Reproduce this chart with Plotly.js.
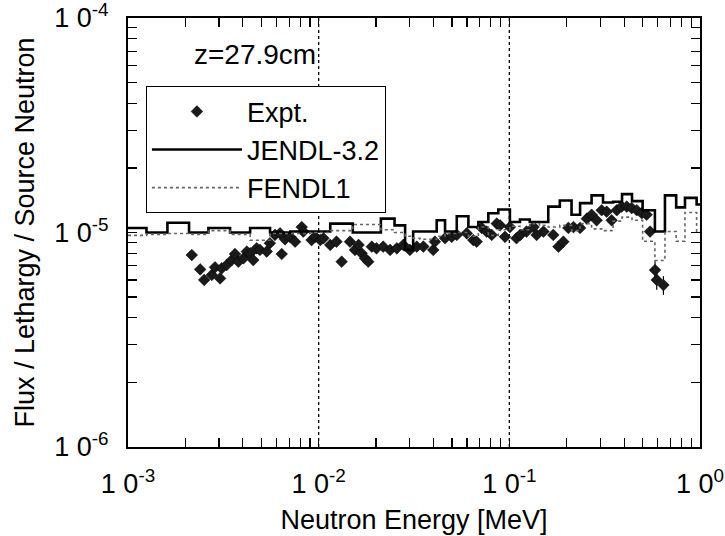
<!DOCTYPE html>
<html><head><meta charset="utf-8">
<script src="https://cdn.plot.ly/plotly-3.0.1.min.js"></script>
<style>body{margin:0;background:#fff}#chart{width:725px;height:536px}</style>
</head><body><div id="chart"></div>
<script>
// Group boundaries (MeV)
const binEdges = [1.0e-3, 1.25e-3, 1.61e-3, 2.09e-3, 2.64e-3, 3.43e-3, 4.37e-3, 5.56e-3, 7.1e-3, 9.1e-3,
  1.15e-2, 1.51e-2, 2.12e-2, 2.5e-2, 2.84e-2, 3.13e-2, 3.4e-2, 4.16e-2, 4.6e-2, 5.3e-2, 6.1e-2, 6.88e-2,
  7.76e-2, 8.75e-2, 0.1007, 0.1137, 0.128, 0.144, 0.16, 0.184, 0.212, 0.235, 0.27, 0.31, 0.35, 0.39,
  0.44, 0.50, 0.58, 0.655, 0.75, 0.834, 0.96, 1.0];
// JENDL-3.2 calculated flux per lethargy
const jendlValues = [1.05e-5, 1.0e-5, 1.11e-5, 1.0e-5, 1.05e-5, 1.0e-5, 1.05e-5, 1.0e-5, 1.01e-5,
  1.01e-5, 1.10e-5, 1.0e-5, 1.16e-5, 1.08e-5, 8.3e-6, 1.01e-5, 1.01e-5, 1.14e-5, 1.01e-5, 1.19e-5, 1.06e-5,
  1.12e-5, 1.23e-5, 1.28e-5, 1.12e-5, 1.15e-5, 1.12e-5, 1.12e-5, 1.32e-5, 1.41e-5, 1.21e-5, 1.37e-5,
  1.49e-5, 1.38e-5, 1.39e-5, 1.51e-5, 1.40e-5, 1.27e-5, 1.01e-5, 1.49e-5, 1.31e-5, 1.45e-5, 1.35e-5];
// FENDL1 calculated flux per lethargy
const fendlValues = [9.7e-6, 9.8e-6, 9.9e-6, 9.8e-6, 1.02e-5, 9.8e-6, 9.2e-6, 9.9e-6, 9.9e-6,
  1.0e-5, 1.02e-5, 1.09e-5, 1.03e-5, 1.0e-5, 9.6e-6, 9.4e-6, 9.3e-6, 9.6e-6, 9.9e-6, 1.0e-5, 9.6e-6,
  1.06e-5, 9.7e-6, 1.03e-5, 1.07e-5, 1.03e-5, 1.10e-5, 1.08e-5, 1.06e-5, 1.08e-5, 1.02e-5, 1.10e-5,
  1.04e-5, 1.02e-5, 1.13e-5, 1.18e-5, 1.14e-5, 9.1e-6, 7.4e-6, 1.01e-5, 9.1e-6, 1.24e-5, 1.0e-5];
// Experiment
const exptEnergy = [2.16e-3, 2.39e-3, 2.51e-3, 2.75e-3, 2.86e-3, 3.04e-3, 3.10e-3, 3.29e-3, 3.50e-3, 3.64e-3,
  3.79e-3, 4.03e-3, 4.20e-3, 4.37e-3, 4.54e-3, 4.73e-3, 4.92e-3, 5.34e-3, 5.55e-3, 5.90e-3,
  6.27e-3, 6.40e-3, 6.66e-3, 7.08e-3, 7.52e-3, 8.15e-3, 8.30e-3, 9.18e-3, 9.57e-3, 1.02e-2,
  1.06e-2, 1.15e-2, 1.24e-2, 1.32e-2, 1.46e-2, 1.55e-2, 1.62e-2, 1.68e-2, 1.75e-2, 1.82e-2,
  1.90e-2, 2.01e-2, 2.18e-2, 2.37e-2, 2.57e-2, 2.78e-2, 3.01e-2, 3.27e-2, 3.54e-2, 3.99e-2,
  4.07e-2, 4.60e-2, 4.99e-2, 5.30e-2, 5.98e-2, 6.47e-2, 6.74e-2, 7.16e-2, 7.61e-2, 8.08e-2,
  8.59e-2, 8.94e-2, 9.49e-2, 0.1007, 0.109, 0.114, 0.123, 0.134, 0.139, 0.151,
  0.170, 0.181, 0.192, 0.204, 0.217, 0.235, 0.255, 0.270, 0.287, 0.305,
  0.324, 0.344, 0.366, 0.388, 0.413, 0.438, 0.466, 0.495, 0.525, 0.547,
  0.581, 0.593, 0.643];
const exptFlux = [7.85e-6, 6.73e-6, 6.01e-6, 6.34e-6, 6.88e-6, 6.11e-6, 6.81e-6, 7.05e-6, 7.44e-6, 7.94e-6,
  7.31e-6, 7.58e-6, 8.15e-6, 8.00e-6, 7.44e-6, 8.44e-6, 8.29e-6, 8.15e-6, 8.91e-6, 9.74e-6,
  9.91e-6, 7.94e-6, 9.29e-6, 9.55e-6, 9.06e-6, 1.06e-5, 1.01e-5, 9.22e-6, 9.55e-6, 9.22e-6,
  9.40e-6, 8.75e-6, 9.06e-6, 7.31e-6, 9.06e-6, 8.29e-6, 8.75e-6, 8.00e-6, 7.58e-6, 7.31e-6,
  8.59e-6, 8.44e-6, 8.59e-6, 8.29e-6, 8.44e-6, 8.75e-6, 8.29e-6, 8.59e-6, 8.60e-6, 8.29e-6,
  9.06e-6, 9.40e-6, 9.55e-6, 9.74e-6, 9.91e-6, 9.22e-6, 9.06e-6, 1.05e-5, 1.01e-5, 9.74e-6,
  1.10e-5, 1.08e-5, 9.55e-6, 1.06e-5, 9.40e-6, 9.74e-6, 1.01e-5, 1.06e-5, 9.74e-6, 1.01e-5,
  9.74e-6, 8.59e-6, 9.06e-6, 1.05e-5, 1.06e-5, 1.05e-5, 1.16e-5, 1.21e-5, 1.14e-5, 1.27e-5,
  1.25e-5, 1.14e-5, 1.27e-5, 1.32e-5, 1.32e-5, 1.30e-5, 1.27e-5, 1.23e-5, 1.21e-5, 1.01e-5,
  6.68e-6, 6.01e-6, 5.69e-6];
const exptError = exptFlux.map((v, i) => i >= exptFlux.length - 3 ? v * 0.1 : v * 0.03);

// Axis decades, labels and dotted reference lines
const xDecades = [-3, -2, -1, 0];
const xTickLabels = ['1 0<sup>-3</sup>', '1 0<sup>-2</sup>', '1 0<sup>-1</sup>', '1 0<sup>0</sup>'];
const yDecades = [-6, -5, -4];
const yTickLabels = ['1 0<sup>-6</sup>', '1 0<sup>-5</sup>', '1 0<sup>-4</sup>'];
const xGridLines = [1e-2, 1e-1];

function logTicks(decades, labels) {
  const vals = [], text = [];
  decades.forEach((d, i) => {
    vals.push(parseFloat('1e' + d)); text.push(labels[i]);
    if (i < decades.length - 1) for (let k = 2; k <= 9; k++) { vals.push(parseFloat(k + 'e' + d)); text.push(''); }
  });
  return {vals, text};
}
function stepY(vals) { return vals.concat([vals[vals.length - 1]]); }

const FONT = 'Liberation Sans, Arial, Helvetica, sans-serif';
const xT = logTicks(xDecades, xTickLabels);
const yT = logTicks(yDecades, yTickLabels);

const traces = [
  {
    x: exptEnergy, y: exptFlux, name: 'Expt.', type: 'scatter', mode: 'markers',
    marker: {symbol: 'diamond', size: 9, color: '#1a1a1a', line: {color: '#000', width: 0.5}},
    error_y: {type: 'data', array: exptError, visible: true, color: '#000', thickness: 1.2, width: 0}
  },
  {
    x: binEdges, y: stepY(jendlValues), name: 'JENDL-3.2', type: 'scatter', mode: 'lines',
    line: {shape: 'hv', color: '#000', width: 2.6}
  },
  {
    x: binEdges, y: stepY(fendlValues), name: 'FENDL1', type: 'scatter', mode: 'lines',
    line: {shape: 'hv', color: '#666', width: 1.6, dash: 'dot'}
  }
];

const axisCommon = {
  type: 'log', showline: true, linecolor: '#000', linewidth: 2, mirror: 'allticks',
  ticks: 'inside', ticklen: 9, tickwidth: 1.2, tickcolor: '#000', zeroline: false, showgrid: false,
  tickmode: 'array', tickfont: {family: FONT, size: 27, color: '#000'}, automargin: false,
  ticklabeloverflow: 'allow'
};

const layout = {
  width: 725, height: 536,
  margin: {l: 128, r: 25, t: 18, b: 89},
  paper_bgcolor: '#fff', plot_bgcolor: '#fff',
  font: {family: FONT, color: '#000'},
  showlegend: true,
  xaxis: Object.assign({}, axisCommon, {
    range: [-3, 0], tickvals: xT.vals, ticktext: xT.text, ticklabelstandoff: 12,
    title: {text: 'Neutron Energy [MeV]', font: {family: FONT, size: 27, color: '#000'}, standoff: 12}
  }),
  yaxis: Object.assign({}, axisCommon, {
    range: [-6, -4], tickvals: yT.vals, ticktext: yT.text, ticklabelstandoff: 12,
    title: {text: 'Flux / Lethargy / Source Neutron', font: {family: FONT, size: 27, color: '#000'}, standoff: 12}
  }),
  shapes: xGridLines.map(v => ({
    type: 'line', xref: 'x', yref: 'paper', x0: v, x1: v, y0: 0, y1: 1, layer: 'below',
    line: {color: '#000', width: 1.3, dash: 'dot'}
  })),
  legend: {
    x: 0.031, y: 0.841, xanchor: 'left', yanchor: 'top',
    bgcolor: '#fff', bordercolor: '#000', borderwidth: 1.2,
    font: {family: FONT, size: 27, color: '#000'},
    tracegroupgap: 0, itemwidth: 90
  },
  annotations: [{
    xref: 'paper', yref: 'paper', x: 0.222, y: 0.914, xanchor: 'center', yanchor: 'middle',
    text: 'z=27.9cm', showarrow: false, font: {family: FONT, size: 28, color: '#000'}
  }]
};

Plotly.newPlot('chart', traces, layout, {displayModeBar: false, staticPlot: true});
</script>
</body></html>
